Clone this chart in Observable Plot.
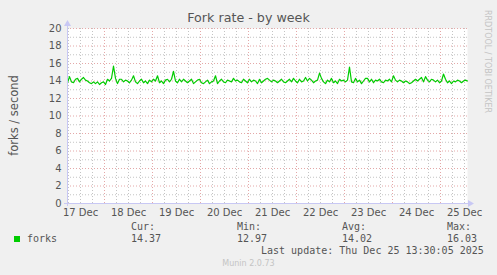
<!DOCTYPE html>
<html>
<head>
<meta charset="utf-8">
<script src="https://cdn.jsdelivr.net/npm/d3@7"></script>
<script src="https://cdn.jsdelivr.net/npm/@observablehq/plot@0.6"></script>
<style>
  html, body { margin: 0; padding: 0; background: #f0f0f0; }
  #wrap { position: relative; width: 497px; height: 275px; background: #f0f0f0; overflow: hidden; }
  #wrap svg { position: absolute; left: 0; top: 0; background: transparent; }
  .t { position: absolute; white-space: pre; }
  .sans { font-family: "DejaVu Sans", sans-serif; }
  .mono { font-family: "DejaVu Sans Mono", monospace; font-size: 10px; color: #555; }
</style>
</head>
<body>
<div id="wrap"></div>
<script>
// ---- data ----
const title = "Fork rate - by week";
const yLabel = "forks / second";
const seriesName = "forks";
const startTime = Date.UTC(2025, 11, 17, 5, 30); // first sample (hourly)
const forks = [
  13.8, 14.5, 13.9, 13.8, 14.2, 14.3, 13.9, 14.2, 14.4, 14.1,
  14.0, 13.8, 13.7, 13.9, 13.7, 13.9, 13.6, 13.8, 13.9, 13.6,
  14.2, 14.0, 14.3, 15.7, 14.3, 13.7, 14.2, 14.2, 13.9, 14.1,
  14.0, 13.8, 14.1, 14.6, 13.9, 13.7, 14.0, 14.2, 13.8, 14.0,
  13.7, 14.1, 13.9, 14.2, 14.0, 14.6, 13.8, 14.0, 13.7, 14.1,
  14.2, 13.9, 14.2, 15.1, 14.0, 13.8, 14.2, 13.9, 14.2, 14.0,
  13.8, 14.0, 14.2, 13.7, 13.9, 14.1, 14.2, 13.8, 13.7, 13.9,
  14.1, 13.7, 13.9, 14.0, 14.6, 13.7, 14.0, 14.2, 13.9, 13.8,
  14.1, 14.0, 13.9, 14.3, 14.0, 14.1, 13.9, 13.8, 14.2, 14.0,
  13.8, 14.2, 13.9, 14.1, 14.0, 13.7, 14.2, 13.8, 14.0, 14.2,
  14.3, 14.1, 13.9, 14.1, 14.0, 13.8, 14.0, 14.2, 13.9, 13.8,
  14.0, 14.2, 13.9, 14.3, 14.0, 13.8, 14.2, 13.9, 14.0, 14.4,
  14.0, 14.3, 14.1, 13.8, 14.0, 14.1, 14.9, 14.3, 13.9, 13.7,
  14.1, 13.9, 14.3, 13.8, 14.0, 13.7, 14.2, 14.0, 14.1, 13.9,
  14.1, 15.6, 13.9, 13.8, 14.3, 13.9, 14.1, 13.7, 14.0, 14.3,
  14.3, 13.9, 14.2, 13.8, 14.1, 14.0, 14.2, 13.9, 13.8, 14.1,
  14.0, 14.2, 13.9, 14.6, 14.1, 13.9, 14.1, 14.0, 13.8, 14.0,
  13.9, 13.7, 13.8, 14.0, 14.2, 14.0, 14.2, 14.4, 13.9, 14.5,
  14.1, 13.9, 14.2, 14.1, 13.9, 14.1, 13.8, 14.0, 14.8, 14.2,
  13.8, 14.0, 13.7, 14.0, 13.9, 14.1, 14.0, 13.8, 14.0, 14.1,
  14.0
];
const yTicks = [0, 2, 4, 6, 8, 10, 12, 14, 16, 18, 20];
const yMinor = [1, 3, 5, 7, 9, 11, 13, 15, 17, 19];
const dayLabels = ["17 Dec", "18 Dec", "19 Dec", "20 Dec", "21 Dec", "22 Dec", "23 Dec", "24 Dec", "25 Dec"];
const statNames = ["Cur:", "Min:", "Avg:", "Max:"];
const statValues = ["14.37", "12.97", "14.02", "16.03"];
const lastUpdate = "Last update: Thu Dec 25 13:30:05 2025";
const footer = "Munin 2.0.73";
const watermark = "RRDTOOL / TOBI OETIKER";

// ---- build ----
const H = 3600e3;
const data = forks.map((v, i) => ({t: new Date(startTime + i * H), v}));
const t0 = new Date(startTime), t1 = new Date(startTime + (forks.length - 1) * H);
const noon = dayLabels.map((s, i) => new Date(Date.UTC(2025, 11, 17 + i, 12)));
const labelByTime = new Map(noon.map((d, i) => [+d, dayLabels[i]]));
const sixHours = d3.utcHour.every(6).range(t0, t1);
const majorX = sixHours.filter(d => d.getUTCHours() === 0);
const minorX = sixHours.filter(d => d.getUTCHours() !== 0);

const minorColor = "#c4c4c4", majorColor = "#e4a8a8", axisColor = "#c8c8f4";

const plot = Plot.plot({
  width: 497, height: 223,
  marginLeft: 67, marginRight: 30, marginTop: 28, marginBottom: 20,
  style: {background: "transparent", fontFamily: "DejaVu Sans, sans-serif", fontSize: "10px", color: "#555"},
  x: {type: "utc", domain: [t0, t1]},
  y: {domain: [0, 20]},
  marks: [
    Plot.frame({fill: "white", stroke: null}),
    Plot.ruleX(minorX, {stroke: minorColor, strokeDasharray: "1,2"}),
    Plot.ruleY(yMinor, {stroke: minorColor, strokeDasharray: "1,2"}),
    Plot.ruleX(majorX, {stroke: majorColor, strokeDasharray: "1,2"}),
    Plot.ruleY(yTicks.filter(d => d > 0), {stroke: majorColor, strokeDasharray: "1,2"}),
    Plot.axisY(yTicks, {tickSize: 0, tickPadding: 6, label: null, fill: "#555", fontSize: 10}),
    Plot.axisX(noon, {tickSize: 0, tickPadding: 5, tickFormat: d => labelByTime.get(+d), label: null, fill: "#555", fontSize: 10}),
    Plot.line(data, {x: "t", y: "v", stroke: "#00cc00", strokeWidth: 1.2})
  ]
});

const wrap = document.getElementById("wrap");
wrap.appendChild(plot);

// axes with arrows (derived from the scales)
const xs = plot.scale("x"), ys = plot.scale("y");
const x0 = xs.range[0], x1 = xs.range[1], yb = ys.range[0], yt = ys.range[1];
const svg = d3.select(plot);
const g = svg.append("g").attr("fill", axisColor).attr("stroke", axisColor);
g.append("line").attr("x1", x0 - 3).attr("x2", x1 + 2).attr("y1", yb + 0.5).attr("y2", yb + 0.5);
g.append("line").attr("x1", x0 + 0.5).attr("x2", x0 + 0.5).attr("y1", yb + 3).attr("y2", yt - 4);
g.append("path").attr("stroke", "none").attr("d", `M${x1 + 7},${yb + 0.5} L${x1 + 1},${yb - 3} L${x1 + 1},${yb + 4} Z`);
g.append("path").attr("stroke", "none").attr("d", `M${x0 + 0.5},${yt - 8} L${x0 - 3},${yt - 2} L${x0 + 4},${yt - 2} Z`);

// y label, centred on the plot area
svg.append("text")
  .attr("transform", `translate(14,${(yb + yt) / 2}) rotate(-90)`)
  .attr("text-anchor", "middle").attr("dominant-baseline", "central")
  .attr("font-family", "DejaVu Sans, sans-serif").attr("font-size", 11.5).attr("fill", "#555")
  .text(yLabel);

function addText(txt, cls, css) {
  const d = document.createElement("div");
  d.className = "t " + cls;
  d.textContent = txt;
  Object.assign(d.style, css);
  wrap.appendChild(d);
  return d;
}
addText(title, "sans", {left: "0px", width: "497px", textAlign: "center", top: "10px", fontSize: "12.7px", color: "#555"});
addText(watermark, "sans", {left: "483px", top: "10px", fontSize: "8px", color: "#c4c4c4", writingMode: "vertical-rl"});

// legend
const sw = document.createElement("div");
Object.assign(sw.style, {position: "absolute", left: "14px", top: "236px", width: "6px", height: "6px", background: "#00cc00"});
wrap.appendChild(sw);
addText(seriesName, "mono", {left: "27px", top: "233px"});
const statX = [131, 237, 342, 447];
statNames.forEach((s, i) => {
  addText(s, "mono", {left: statX[i] + "px", top: "221px"});
  addText(statValues[i], "mono", {left: statX[i] + "px", top: "233px"});
});
addText(lastUpdate, "mono", {left: "261px", top: "245px"});
addText(footer, "sans", {left: "0px", width: "497px", textAlign: "center", top: "259px", fontSize: "8px", color: "#c4c4c4"});
</script>
</body>
</html>
